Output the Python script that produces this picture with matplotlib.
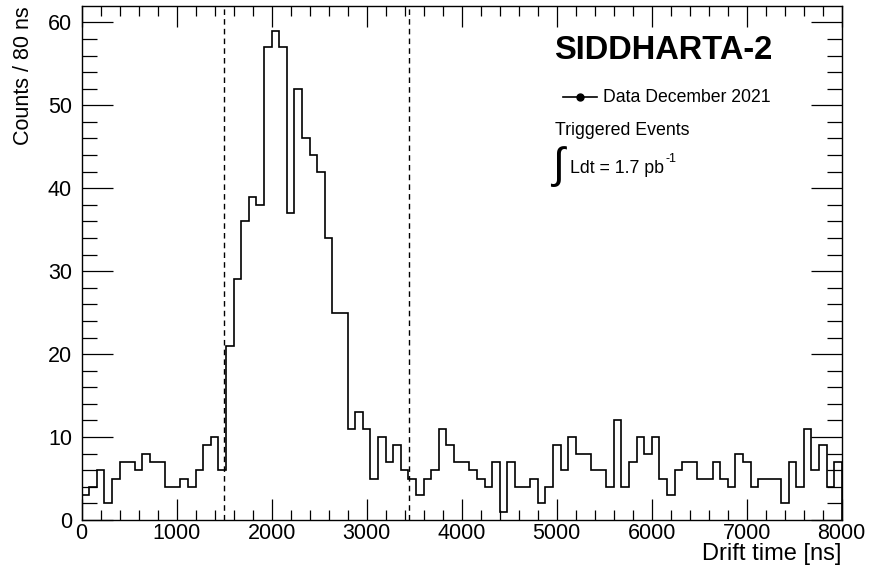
import numpy as np
import matplotlib
matplotlib.use('Agg')
from matplotlib import pyplot as plt
from matplotlib.ticker import MultipleLocator

plt.rcParams['font.family'] = ['Liberation Sans', 'DejaVu Sans']
plt.rcParams['mathtext.fontset'] = 'custom'
plt.rcParams['mathtext.rm'] = 'Liberation Sans'
plt.rcParams['mathtext.it'] = 'Liberation Sans:italic'

# drift time histogram, 100 bins of 80 ns
bin_edges = np.arange(0, 8001, 80)
counts = [3, 4, 6, 2, 5, 7, 7, 6, 8, 7,
          7, 4, 4, 5, 4, 6, 9, 10, 6, 21,
          29, 36, 39, 38, 57, 59, 57, 37, 52, 46,
          44, 42, 34, 25, 25, 11, 13, 11, 5, 10,
          7, 9, 6, 5, 3, 5, 6, 11, 9, 7,
          7, 6, 5, 4, 7, 1, 7, 4, 4, 5,
          2, 4, 9, 6, 10, 8, 8, 6, 6, 4,
          12, 4, 7, 10, 8, 10, 5, 3, 6, 7,
          7, 5, 5, 7, 5, 4, 8, 7, 4, 5,
          5, 5, 2, 7, 4, 11, 6, 9, 4, 7]
cut_lines = [1500, 3445]

fig = plt.figure(figsize=(8.69, 5.78), dpi=100)
ax = fig.add_axes([0.094, 0.1003, 0.8746, 0.889])

ax.stairs(counts, bin_edges, color='black', linewidth=1.2)
for xc in cut_lines:
    ax.axvline(xc, color='black', linestyle=(0, (4, 3)), linewidth=1.0)

ax.set_xlim(0, 8000)
ax.set_ylim(0, 1.05 * max(counts))

ax.xaxis.set_major_locator(MultipleLocator(1000))
ax.xaxis.set_minor_locator(MultipleLocator(200))
ax.yaxis.set_major_locator(MultipleLocator(10))
ax.yaxis.set_minor_locator(MultipleLocator(2))
ax.tick_params(which='both', direction='in', top=True, right=True, labelsize=15.5, width=0.9)
ax.tick_params(axis='x', which='major', length=15, pad=2)
ax.tick_params(axis='x', which='minor', length=7.5)
ax.tick_params(axis='y', which='major', length=22, pad=7)
ax.tick_params(axis='y', which='minor', length=11)
for s in ax.spines.values():
    s.set_linewidth(1.0)

ax.set_xlabel('Drift time [ns]', fontsize=17, loc='right')
ax.xaxis.set_label_coords(1.0, -0.044)
ax.set_ylabel('Counts / 80 ns', fontsize=15.5, loc='top')
ax.yaxis.set_label_coords(-0.063, 1.0)

# labels
ax.text(4975, 56.6, 'SIDDHARTA-2', fontsize=23.5, fontweight='bold', va='center', ha='left')
ax.plot([5070, 5428], [51.0, 51.0], color='black', linewidth=1.2)
ax.plot([5249], [51.0], 'o', color='black', markersize=5)
ax.text(5487, 51.0, 'Data December 2021', fontsize=12.7, va='center', ha='left')
ax.text(4982, 47.0, 'Triggered Events', fontsize=12.8, va='center', ha='left')
ax.text(4930, 42.6, r'$\int$', fontsize=31, va='center', ha='left')
lumi = ax.text(5140, 42.4, 'Ldt = 1.7 pb', fontsize=12.8, va='center', ha='left')
ax.annotate('-1', xy=(1.0, 1.0), xycoords=lumi, xytext=(1, -4), textcoords='offset points',
            fontsize=9, va='bottom', ha='left')

fig.savefig('out.png', dpi=100)
